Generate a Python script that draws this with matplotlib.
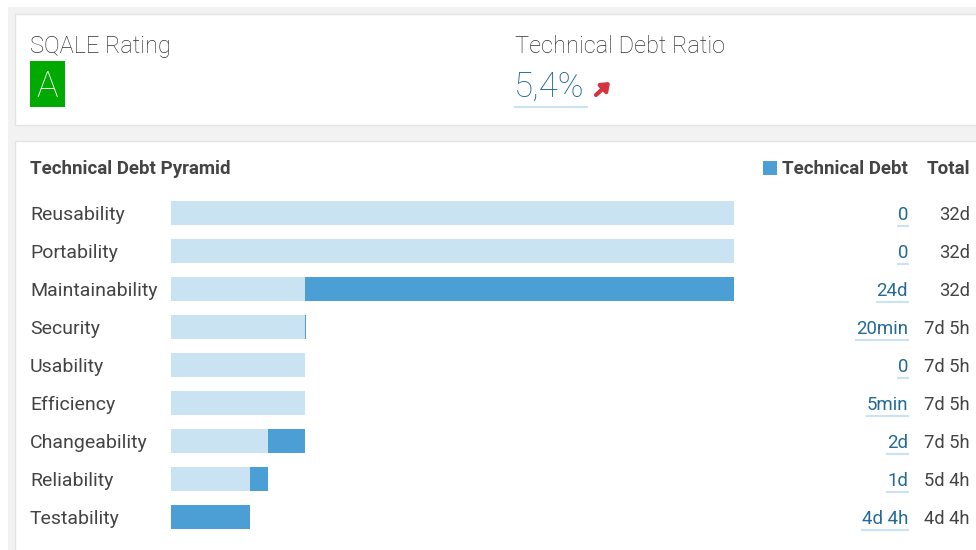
import matplotlib
matplotlib.use("Agg")
import matplotlib.pyplot as plt
from matplotlib.patches import Rectangle
from matplotlib.lines import Line2D

# ---------------- data ----------------
categories = ["Reusability", "Portability", "Maintainability", "Security", "Usability",
              "Efficiency", "Changeability", "Reliability", "Testability"]
# technical debt per characteristic, in hours (1d = 8h)
debt_hours = [0, 0, 195, 0.33, 0, 0.08, 17, 8, 36]
# cumulative total debt, in hours
total_hours = [256, 256, 256, 61.4, 61.1, 61.1, 61, 44, 36]
debt_labels = ["0", "0", "24d", "20min", "0", "5min", "2d", "1d", "4d 4h"]
total_labels = ["32d", "32d", "32d", "7d 5h", "7d 5h", "7d 5h", "7d 5h", "5d 4h", "4d 4h"]
sqale_rating = "A"
debt_ratio = "5,4%"

# ---------------- style ----------------
W, H = 976, 550
FONT = "Roboto"
TXT = "#444444"
LINK = "#236a97"
LIGHT = "#cae3f2"
DARK = "#4b9fd5"
BG = "#f2f2f2"
BORDER = "#e3e3e3"

fig = plt.figure(figsize=(W / 100, H / 100), dpi=100)
fig.patch.set_facecolor("white")

base = fig.add_axes([0, 0, 1, 1])
base.set_xlim(0, W)
base.set_ylim(H, 0)
base.axis("off")

base.add_patch(Rectangle((8, 7), W, H, facecolor=BG, edgecolor="none"))
base.add_patch(Rectangle((15, 14), W, 111, facecolor="white", edgecolor=BORDER, lw=1))
base.add_patch(Rectangle((15, 141), W, H, facecolor="white", edgecolor=BORDER, lw=1))

# top panel
base.text(30, 53, "SQALE Rating", fontsize=17, color="#333333", family=FONT,
          fontweight="light", va="baseline", ha="left")
base.add_patch(Rectangle((30, 61), 35, 46, facecolor="#00aa00", edgecolor="none"))
base.text(47.5, 97, sqale_rating, fontsize=26, color="white", family=FONT,
          fontweight="light", va="baseline", ha="center")

base.text(515, 53, "Technical Debt Ratio", fontsize=17, color="#333333", family=FONT,
          fontweight="light", va="baseline", ha="left")
base.text(514, 97, debt_ratio, fontsize=25, color=LINK, family=FONT,
          fontweight="light", va="baseline", ha="left")
base.add_line(Line2D([515, 587], [107, 107], color=LIGHT, lw=1.5))
base.annotate("", xy=(610, 82), xytext=(596, 95),
              arrowprops=dict(arrowstyle="-|>,head_length=0.45,head_width=0.35",
                              color="#d4333f", lw=3, shrinkA=0, shrinkB=0))

# bottom panel header
HB = 174.5
base.text(30, HB, "Technical Debt Pyramid", fontsize=13.5, fontweight="bold",
          color=TXT, family=FONT, va="baseline", ha="left")
base.add_patch(Rectangle((763, 161), 14, 14, facecolor=DARK, edgecolor="none"))
base.text(908, HB, "Technical Debt", fontsize=13.5, fontweight="bold",
          color=TXT, family=FONT, va="baseline", ha="right")
base.text(970, HB, "Total", fontsize=13.5, fontweight="bold",
          color=TXT, family=FONT, va="baseline", ha="right")

# bars axes
row0, step = 213, 38
n = len(categories)
top_px = row0 - step / 2
bot_px = top_px + n * step
left_px, right_px = 171, 734
ax = fig.add_axes([left_px / W, (H - bot_px) / H, (right_px - left_px) / W, (bot_px - top_px) / H])
ax.set_xlim(0, max(total_hours))
ax.set_ylim(n - 0.5, -0.5)
ax.axis("off")
ax.patch.set_alpha(0)

ys = list(range(n))
light_vals = [t - d for t, d in zip(total_hours, debt_hours)]
ax.barh(ys, light_vals, height=24 / step, color=LIGHT, edgecolor="none")
ax.barh(ys, debt_hours, left=light_vals, height=24 / step, color=DARK, edgecolor="none")

texts = []
for i, cat in enumerate(categories):
    y = row0 + i * step
    base.text(30, y + 7, cat, fontsize=14, color=TXT, family=FONT, va="baseline", ha="left")
    t = base.text(908, y + 7, debt_labels[i], fontsize=13.4, color=LINK, family=FONT,
                  va="baseline", ha="right")
    texts.append((t, y))
    base.text(970, y + 7, total_labels[i], fontsize=13.2, color=TXT, family=FONT,
              va="baseline", ha="right")

fig.canvas.draw()
r = fig.canvas.get_renderer()
inv = base.transData.inverted()
for t, y in texts:
    bb = t.get_window_extent(renderer=r)
    (x0, _), (x1, _) = inv.transform([[bb.x0, bb.y0], [bb.x1, bb.y1]])
    base.add_line(Line2D([x0, x1], [y + 13, y + 13], color=LIGHT, lw=1.5))

fig.savefig("out.png", dpi=100, facecolor="white")
